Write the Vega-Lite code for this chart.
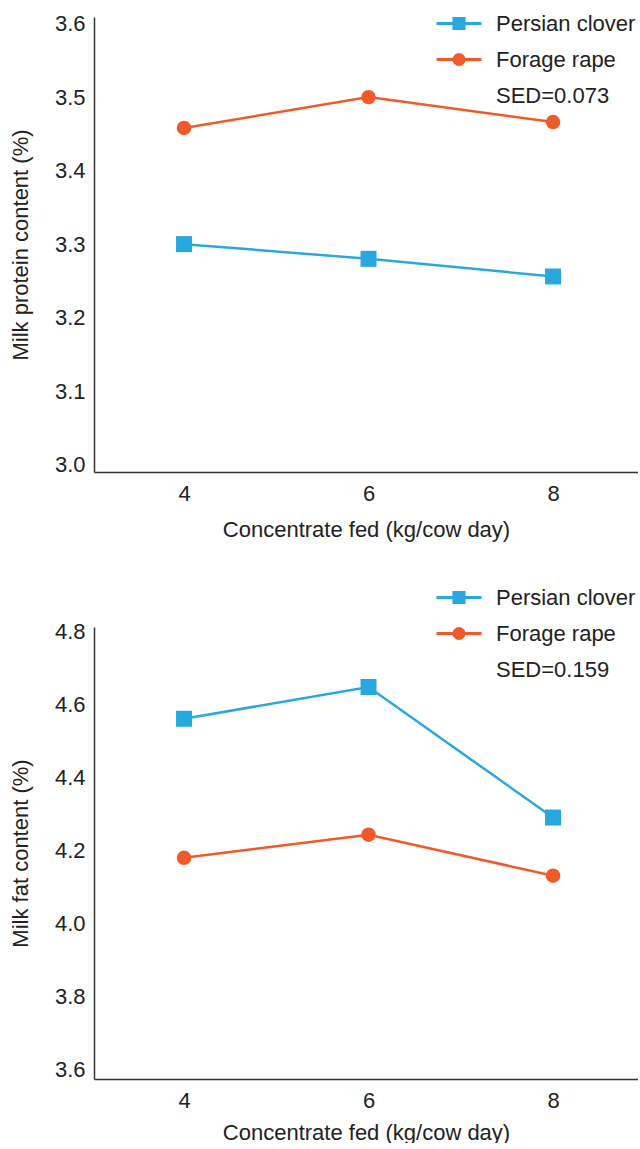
{
  "$schema": "https://vega.github.io/schema/vega-lite/v6.json",
  "padding": {"left": 9, "top": 4, "right": 0, "bottom": 0},
  "spacing": 38,
  "background": "white",
  "config": {
    "font": "Liberation Sans",
    "view": {"stroke": null},
    "axis": {"grid": false, "ticks": false, "domainColor": "#333", "domainWidth": 1.5, "labelFontSize": 22, "titleFontSize": 22, "labelColor": "#222", "titleColor": "#222", "titleFontWeight": "normal", "labelFont": "Liberation Sans", "titleFont": "Liberation Sans"},
    "legend": {"labelFont": "Liberation Sans"}
  },
  "resolve": {"scale": {"color": "independent"}, "legend": {"color": "independent"}},
  "vconcat": [
    {
      "width": 544,
      "height": 455,
      "data": {"values": [
        {"conc": 4, "series": "Persian clover", "value": 3.300},
        {"conc": 6, "series": "Persian clover", "value": 3.280},
        {"conc": 8, "series": "Persian clover", "value": 3.256},
        {"conc": 4, "series": "Forage rape", "value": 3.458},
        {"conc": 6, "series": "Forage rape", "value": 3.500},
        {"conc": 8, "series": "Forage rape", "value": 3.466}
      ]},
      "encoding": {
        "x": {"field": "conc", "type": "quantitative", "scale": {"domain": [3.024, 8.921], "nice": false, "zero": false}, "axis": {"values": [4, 6, 8], "title": "Concentrate fed (kg/cow day)", "labelPadding": 11, "titlePadding": 15}},
        "y": {"field": "value", "type": "quantitative", "scale": {"domain": [2.99, 3.609], "nice": false, "zero": false}, "axis": {"values": [3.0, 3.1, 3.2, 3.3, 3.4, 3.5, 3.6], "format": ".1f", "title": "Milk protein content (%)", "labelPadding": 9, "titlePadding": 22}},
        "color": {"field": "series", "type": "nominal", "scale": {"domain": ["Persian clover", "Forage rape", "SED=0.073"], "range": ["#29a8e0", "#f05a28", "rgba(0,0,0,0)"]},
          "legend": {"title": null, "orient": "none", "legendX": 345.5, "legendY": -13, "symbolSize": 1296, "symbolStrokeWidth": 3, "labelFontSize": 22, "labelColor": "#222", "labelOffset": 17.5, "labelLimit": 300, "rowPadding": 5, "padding": 0,
            "encode": {"symbols": {"update": {
              "shape": {"signal": "datum.value === 'Persian clover' ? 'M-1.25,0H1.25M-0.28,-0.28H0.28V0.28H-0.28Z' : datum.value === 'Forage rape' ? 'M-1.25,0H1.25M-0.28,0A0.28,0.28,0,1,0,0.28,0A0.28,0.28,0,1,0,-0.28,0Z' : 'M0,0'"},
              "fill": {"signal": "datum.value === 'Persian clover' ? '#29a8e0' : datum.value === 'Forage rape' ? '#f05a28' : 'transparent'"},
              "stroke": {"signal": "datum.value === 'Persian clover' ? '#29a8e0' : datum.value === 'Forage rape' ? '#f05a28' : 'transparent'"},
              "opacity": {"value": 1}
            }}}}}
      },
      "layer": [
        {"mark": {"type": "line", "strokeWidth": 2.5}},
        {"transform": [{"filter": "datum.series === 'Persian clover'"}], "mark": {"type": "point", "shape": "square", "filled": true, "size": 256, "opacity": 1}},
        {"transform": [{"filter": "datum.series === 'Forage rape'"}], "mark": {"type": "point", "shape": "circle", "filled": true, "size": 210, "opacity": 1}}
      ]
    },
    {
      "width": 544,
      "height": 452,
      "data": {"values": [
        {"conc": 4, "series": "Persian clover", "value": 4.560},
        {"conc": 6, "series": "Persian clover", "value": 4.647},
        {"conc": 8, "series": "Persian clover", "value": 4.290},
        {"conc": 4, "series": "Forage rape", "value": 4.180},
        {"conc": 6, "series": "Forage rape", "value": 4.243},
        {"conc": 8, "series": "Forage rape", "value": 4.131}
      ]},
      "encoding": {
        "x": {"field": "conc", "type": "quantitative", "scale": {"domain": [3.024, 8.921], "nice": false, "zero": false}, "axis": {"values": [4, 6, 8], "title": "Concentrate fed (kg/cow day)", "labelPadding": 11, "titlePadding": 11}},
        "y": {"field": "value", "type": "quantitative", "scale": {"domain": [3.575, 4.811], "nice": false, "zero": false}, "axis": {"values": [3.6, 3.8, 4.0, 4.2, 4.4, 4.6, 4.8], "format": ".1f", "title": "Milk fat content (%)", "labelPadding": 9, "titlePadding": 22}},
        "color": {"field": "series", "type": "nominal", "scale": {"domain": ["Persian clover", "Forage rape", "SED=0.159"], "range": ["#29a8e0", "#f05a28", "rgba(0,0,0,0)"]},
          "legend": {"title": null, "orient": "none", "legendX": 345.5, "legendY": -49, "symbolSize": 1296, "symbolStrokeWidth": 3, "labelFontSize": 22, "labelColor": "#222", "labelOffset": 17.5, "labelLimit": 300, "rowPadding": 5, "padding": 0,
            "encode": {"symbols": {"update": {
              "shape": {"signal": "datum.value === 'Persian clover' ? 'M-1.25,0H1.25M-0.28,-0.28H0.28V0.28H-0.28Z' : datum.value === 'Forage rape' ? 'M-1.25,0H1.25M-0.28,0A0.28,0.28,0,1,0,0.28,0A0.28,0.28,0,1,0,-0.28,0Z' : 'M0,0'"},
              "fill": {"signal": "datum.value === 'Persian clover' ? '#29a8e0' : datum.value === 'Forage rape' ? '#f05a28' : 'transparent'"},
              "stroke": {"signal": "datum.value === 'Persian clover' ? '#29a8e0' : datum.value === 'Forage rape' ? '#f05a28' : 'transparent'"},
              "opacity": {"value": 1}
            }}}}}
      },
      "layer": [
        {"mark": {"type": "line", "strokeWidth": 2.5}},
        {"transform": [{"filter": "datum.series === 'Persian clover'"}], "mark": {"type": "point", "shape": "square", "filled": true, "size": 256, "opacity": 1}},
        {"transform": [{"filter": "datum.series === 'Forage rape'"}], "mark": {"type": "point", "shape": "circle", "filled": true, "size": 210, "opacity": 1}}
      ]
    }
  ]
}
